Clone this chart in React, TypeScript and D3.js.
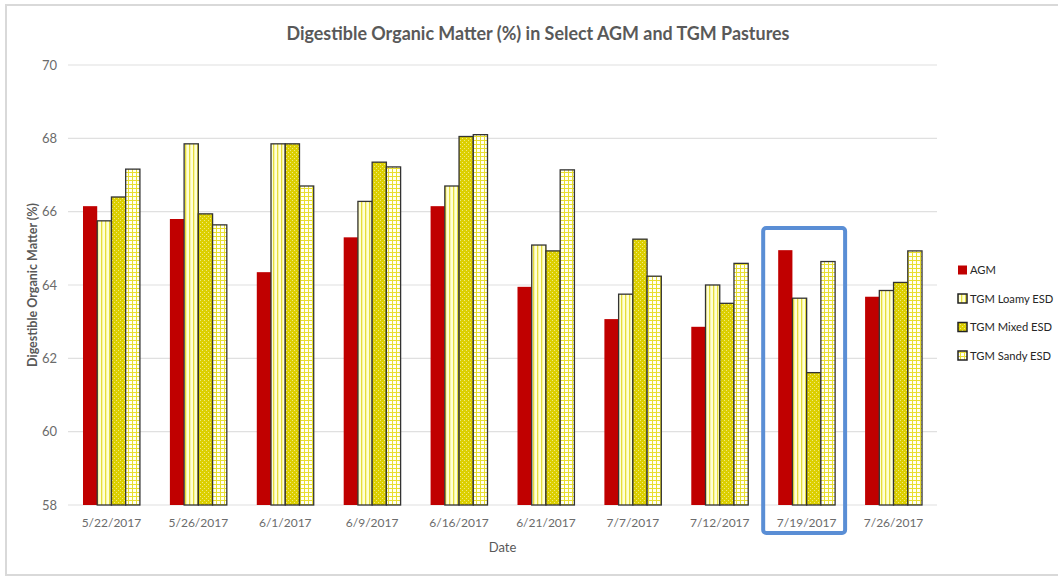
import React from "react";
import * as d3 from "d3";

const categories = ["5/22/2017","5/26/2017","6/1/2017","6/9/2017","6/16/2017","6/21/2017","7/7/2017","7/12/2017","7/19/2017","7/26/2017"];
const seriesNames = ["AGM","TGM Loamy ESD","TGM Mixed ESD","TGM Sandy ESD"];
const agm   = [66.15, 65.8, 64.35, 65.3, 66.15, 63.95, 63.07, 62.86, 64.95, 63.68];
const loamy = [65.75, 67.85, 67.85, 66.28, 66.7, 65.09, 63.75, 64.0, 63.64, 63.85];
const mixed = [66.4, 65.94, 67.85, 67.35, 68.05, 64.93, 65.25, 63.5, 61.61, 64.07];
const sandy = [67.16, 65.64, 66.7, 67.22, 68.1, 67.14, 64.24, 64.59, 64.64, 64.93];
const yTicks = [58, 60, 62, 64, 66, 68, 70];
const highlighted = "7/19/2017";

const W = 1058, H = 576;
const left = 68, right = 937, top = 65, bottom = 505;

const fills = ["#C00000", "url(#pLoamy)", "url(#pMixed)", "url(#pSandy)"];
const strokes = ["none", "#333", "#333", "#333"];

export default function App() {
  const series = [agm, loamy, mixed, sandy];
  const x = d3.scaleBand<string>().domain(categories).range([left, right]).paddingInner(0.345).paddingOuter(0.1725);
  const xs = d3.scaleBand<string>().domain(seriesNames).range([0, x.bandwidth()]).padding(0);
  const y = d3.scaleLinear().domain([58, 70]).range([bottom, top]);
  const font = "Lato, 'Open Sans', sans-serif";
  const hx = x(highlighted)!;

  return (
    <svg width={W} height={H} style={{ position: "absolute", left: 0, top: 0, background: "#fff" }} fontFamily={font}>
      <defs>
        <pattern id="pLoamy" patternUnits="userSpaceOnUse" width="4" height="4">
          <rect width="4" height="4" fill="#FFFFD6" />
          <rect x="1" width="1.3" height="4" fill="#E6DD3A" />
        </pattern>
        <pattern id="pMixed" patternUnits="userSpaceOnUse" width="4" height="4">
          <rect width="4" height="4" fill="#DCCF00" />
          <rect x="0" y="0" width="1" height="1" fill="#F0EA80" />
          <rect x="2" y="2" width="1" height="1" fill="#F0EA80" />
        </pattern>
        <pattern id="pSandy" patternUnits="userSpaceOnUse" width="4" height="4">
          <rect width="4" height="4" fill="#FFFFF4" />
          <rect x="0" y="0" width="4" height="1" fill="#E8DE30" />
          <rect x="0" y="0" width="1" height="4" fill="#E8DE30" />
        </pattern>
      </defs>
      <rect x={6} y={5} width={1100} height={570} fill="#fff" stroke="#d9d9d9" strokeWidth={2} />
      <text x={538} y={40} textAnchor="middle" fontSize={18} fontWeight="bold" fill="#595959" textLength={503} lengthAdjust="spacingAndGlyphs">
        Digestible Organic Matter (%) in Select AGM and TGM Pastures
      </text>
      {yTicks.map((t) => (
        <g key={t}>
          <line x1={left} x2={right} y1={y(t)} y2={y(t)} stroke="#e0e0e0" strokeWidth={1.2} />
          <text x={57} y={y(t) + 4.5} textAnchor="end" fontSize={13} fill="#6b6b6b">{t}</text>
        </g>
      ))}
      {categories.map((c, i) => (
        <g key={c}>
          {series.map((s, j) => {
            const bx = x(c)! + xs(seriesNames[j])!;
            const by = y(s[i]);
            return (
              <rect key={j} x={bx} y={by} width={xs.bandwidth()} height={y(58) - by}
                fill={fills[j]} stroke={strokes[j]} strokeWidth={1.3} />
            );
          })}
          <text x={x(c)! + x.bandwidth() / 2} y={527} textAnchor="middle" fontSize={12} fill="#6b6b6b">{c}</text>
        </g>
      ))}
      <rect x={hx - 15} y={228} width={x.bandwidth() + 25} height={305} rx={3} fill="none" stroke="#5A8ED5" strokeWidth={4} />
      <text x={(left + right) / 2} y={552} textAnchor="middle" fontSize={13} fill="#595959">Date</text>
      <text transform={`translate(37,${(top + bottom) / 2}) rotate(-90)`} textAnchor="middle" fontSize={12.5} fontWeight="bold" fill="#595959">
        Digestible Organic Matter (%)
      </text>
      {seriesNames.map((n, j) => {
        const ly = 270 + j * 28.5;
        return (
          <g key={n}>
            <rect x={958} y={ly - 4.5} width={9} height={9} fill={fills[j]} stroke={j === 0 ? "none" : "#222"} strokeWidth={1.5} />
            <text x={970} y={ly + 4} fontSize={11.2} fill="#262626">{n}</text>
          </g>
        );
      })}
    </svg>
  );
}
